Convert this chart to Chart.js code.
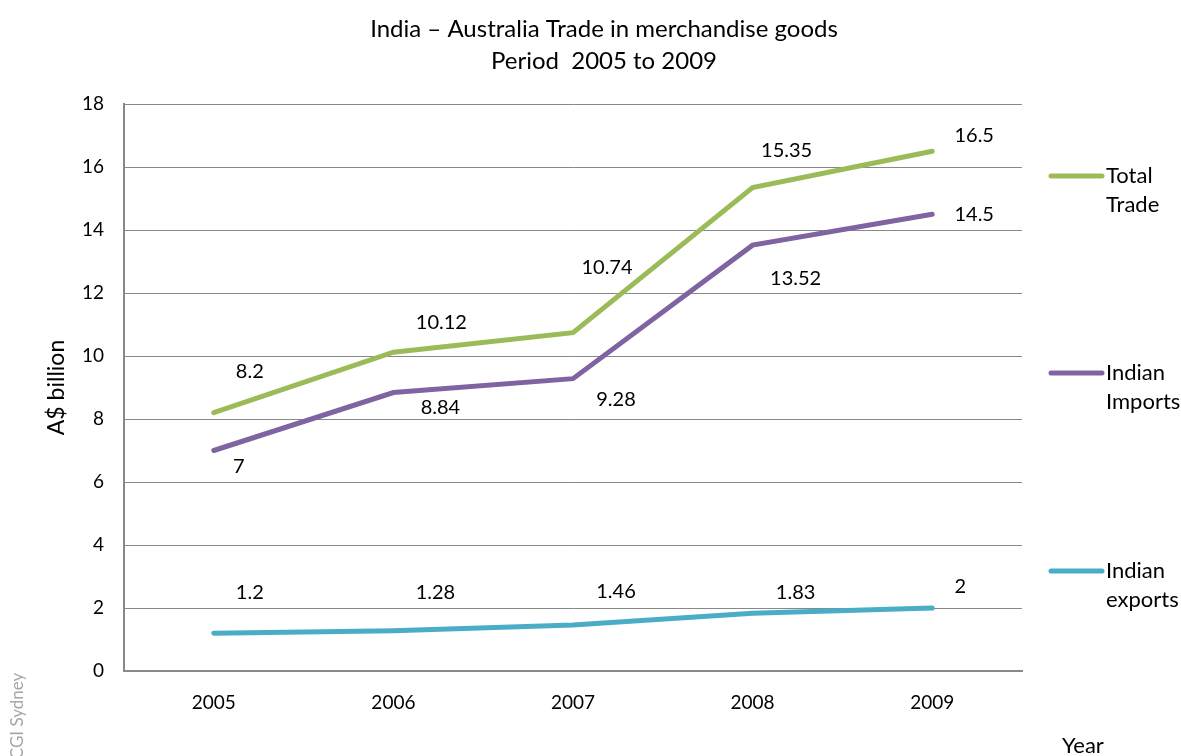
<!DOCTYPE html>
<html lang="en">
  <head>
    <meta charset="utf-8" />
    <title>India Australia trade</title>
    <style>
      * {
        margin: 0;
        padding: 0;
      }
      body {
        background: #fff;
      }
      .chartBox {
        width: 1181px;
        height: 756px;
      }
    </style>
  </head>
  <body>
    <div class="chartBox">
      <canvas id="myChart"></canvas>
    </div>
    <script src="https://cdn.jsdelivr.net/npm/chart.js"></script>
    <script>
      // data
      const years = ["2005", "2006", "2007", "2008", "2009"];
      const totalTrade = [8.2, 10.12, 10.74, 15.35, 16.5];
      const indianImports = [7, 8.84, 9.28, 13.52, 14.5];
      const indianExports = [1.2, 1.28, 1.46, 1.83, 2];
      const yTicks = [0, 2, 4, 6, 8, 10, 12, 14, 16, 18];

      const FONT = "Lato, 'Open Sans', sans-serif";

      // where each value label sits relative to its point (px)
      const labelShift = [
        [[36, -41], [48, -30], [34, -65], [34, -37], [42, -16]],
        [[25, 16], [47, 15], [43, 21], [43, 33], [42, 0]],
        [[36, -41], [42, -38], [43, -33], [43, -21], [28, -21]]
      ];

      const legendItems = [
        { lines: ["Total", "Trade"], y: 176 },
        { lines: ["Indian", "Imports"], y: 373 },
        { lines: ["Indian", "exports"], y: 571 }
      ];

      const extrasPlugin = {
        id: "extras",
        afterDatasetsDraw(chart) {
          const { ctx, scales: { x, y } } = chart;
          ctx.save();
          // value labels
          ctx.font = "20px " + FONT;
          ctx.fillStyle = "#000";
          ctx.textAlign = "center";
          ctx.textBaseline = "middle";
          chart.data.datasets.forEach((ds, i) => {
            ds.data.forEach((v, j) => {
              const px = x.getPixelForValue(j) + labelShift[i][j][0];
              const py = y.getPixelForValue(v) + labelShift[i][j][1];
              ctx.fillText(String(v), px, py);
            });
          });

          // title
          ctx.font = "24px " + FONT;
          ctx.fillText("India \u2013 Australia Trade in merchandise goods", 604, 29);
          ctx.fillText("Period  2005 to 2009", 604, 61);

          // legend
          ctx.font = "22px " + FONT;
          ctx.textAlign = "left";
          ctx.lineCap = "round";
          ctx.lineWidth = 5;
          chart.data.datasets.forEach((ds, i) => {
            const item = legendItems[i];
            ctx.strokeStyle = ds.borderColor;
            ctx.beginPath();
            ctx.moveTo(1051, item.y);
            ctx.lineTo(1102, item.y);
            ctx.stroke();
            item.lines.forEach((t, k) => ctx.fillText(t, 1106, item.y + k * 29));
          });

          // footer bits
          ctx.fillText("Year", 1062, 746);
          ctx.translate(18, 716);
          ctx.rotate(-Math.PI / 2);
          ctx.font = "17px " + FONT;
          ctx.fillStyle = "#a6a6a6";
          ctx.textAlign = "center";
          ctx.fillText("CGI Sydney", 0, 0);
          ctx.restore();
        }
      };

      const lineStyle = (color) => ({
        borderColor: color,
        backgroundColor: color,
        borderWidth: 5,
        borderCapStyle: "round",
        pointRadius: 0,
        tension: 0,
        fill: false
      });

      const config = {
        type: "line",
        data: {
          labels: years,
          datasets: [
            { label: "Total Trade", data: totalTrade, ...lineStyle("#9bbb59") },
            { label: "Indian Imports", data: indianImports, ...lineStyle("#8064a2") },
            { label: "Indian exports", data: indianExports, ...lineStyle("#4bacc6") }
          ]
        },
        options: {
          responsive: true,
          maintainAspectRatio: false,
          animation: false,
          layout: { padding: { left: 0, right: 159, top: 104, bottom: 0 } },
          plugins: {
            legend: { display: false },
            tooltip: { enabled: false },
            title: { display: false }
          },
          scales: {
            x: {
              offset: true,
              grid: { display: false, drawTicks: false },
              border: { display: true, color: "#888", width: 2 },
              ticks: {
                padding: 20,
                color: "#000",
                font: { size: 19, family: FONT }
              },
              afterFit(scale) {
                scale.height = 85;
              }
            },
            y: {
              min: 0,
              max: 18,
              afterBuildTicks(scale) {
                scale.ticks = yTicks.map((v) => ({ value: v }));
              },
              grid: { color: "#888", lineWidth: 1, drawTicks: false },
              border: { display: true, color: "#888", width: 2 },
              ticks: {
                padding: 20,
                color: "#000",
                font: { size: 19, family: FONT }
              },
              title: {
                display: true,
                text: "A$ billion",
                color: "#000",
                font: { size: 23, family: FONT },
                padding: { top: 43, bottom: 0 }
              },
              afterFit(scale) {
                scale.width = 124;
              }
            }
          }
        },
        plugins: [extrasPlugin]
      };

      const myChart = new Chart(document.getElementById("myChart"), config);
    </script>
  </body>
</html>
